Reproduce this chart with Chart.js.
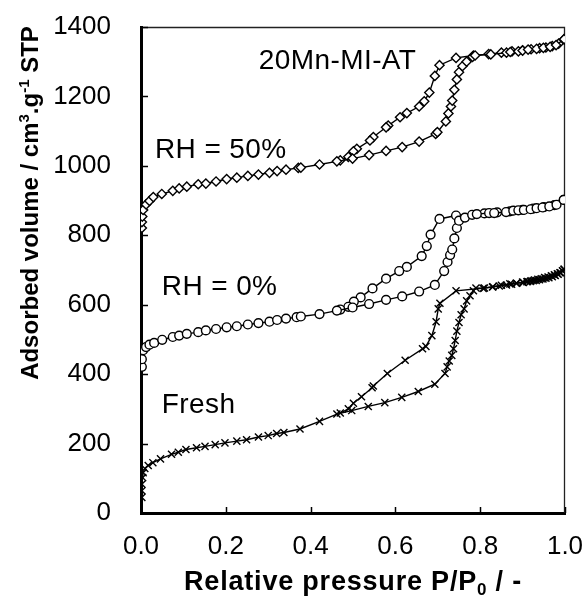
<!DOCTYPE html>
<html>
<head>
<meta charset="utf-8">
<script src="https://cdn.jsdelivr.net/npm/chart.js@4.4.0/dist/chart.umd.min.js"></script>
<style>
  html, body { margin: 0; padding: 0; background: #fff; }
  canvas { display: block; }
</style>
</head>
<body>
<canvas id="chart" width="587" height="599"></canvas>
<script>
// N2 physisorption isotherms: [relative pressure P/P0, adsorbed volume cm3/g STP]

// 20Mn-MI-AT aged at RH = 50 %
const rh50Adsorption = [
  [0.002, 821], [0.002, 838], [0.003, 854], [0.005, 873], [0.012, 889], [0.020, 899],
  [0.029, 910], [0.049, 919], [0.075, 928], [0.090, 935], [0.108, 940], [0.135, 947],
  [0.153, 949], [0.177, 955], [0.202, 962], [0.226, 966], [0.252, 971], [0.277, 975],
  [0.303, 980], [0.321, 985], [0.342, 989], [0.371, 994], [0.377, 995], [0.421, 1004],
  [0.462, 1013], [0.499, 1021], [0.538, 1031], [0.578, 1043], [0.616, 1054], [0.656, 1070],
  [0.695, 1092], [0.699, 1097], [0.719, 1128], [0.725, 1151], [0.731, 1171], [0.734, 1188],
  [0.739, 1219], [0.745, 1249], [0.750, 1270], [0.758, 1287], [0.768, 1300], [0.782, 1314],
  [0.788, 1318], [0.825, 1321], [0.862, 1326], [0.871, 1328], [0.890, 1330], [0.900, 1332],
  [0.913, 1335], [0.933, 1337], [0.949, 1340], [0.965, 1343], [0.979, 1348], [0.998, 1365]
];
const rh50Desorption = [
  [0.998, 1365], [0.985, 1352], [0.970, 1345], [0.955, 1341], [0.940, 1339], [0.920, 1336],
  [0.900, 1333], [0.875, 1330], [0.850, 1326], [0.820, 1322], [0.784, 1318], [0.743, 1311],
  [0.704, 1290], [0.693, 1259], [0.680, 1211], [0.668, 1186], [0.656, 1171], [0.627, 1152],
  [0.611, 1140], [0.583, 1116], [0.578, 1111], [0.548, 1083], [0.540, 1073], [0.509, 1049],
  [0.501, 1042], [0.489, 1026], [0.470, 1016]
];

// 20Mn-MI-AT aged at RH = 0 %
const rh0Adsorption = [
  [0.002, 421], [0.002, 443], [0.005, 469], [0.012, 478], [0.020, 485], [0.031, 490],
  [0.050, 499], [0.075, 507], [0.090, 511], [0.108, 516], [0.135, 521], [0.153, 526],
  [0.177, 530], [0.202, 535], [0.226, 538], [0.252, 543], [0.277, 547], [0.303, 551],
  [0.321, 556], [0.342, 560], [0.367, 564], [0.377, 566], [0.421, 573], [0.462, 583],
  [0.499, 592], [0.538, 602], [0.578, 614], [0.616, 624], [0.656, 638], [0.693, 657],
  [0.715, 697], [0.723, 723], [0.729, 743], [0.734, 759], [0.739, 791], [0.745, 821],
  [0.750, 842], [0.764, 851], [0.781, 859], [0.792, 861], [0.821, 864], [0.833, 864],
  [0.861, 867], [0.878, 871], [0.890, 872], [0.903, 873], [0.919, 875], [0.933, 878],
  [0.947, 880], [0.963, 883], [0.980, 888], [0.997, 902]
];
const rh0Desorption = [
  [0.997, 902], [0.975, 887], [0.950, 881], [0.925, 877], [0.900, 873], [0.870, 869],
  [0.840, 866], [0.810, 863], [0.743, 857], [0.704, 847], [0.683, 802], [0.674, 769],
  [0.662, 740], [0.627, 709], [0.609, 697], [0.578, 675], [0.546, 647], [0.518, 621],
  [0.502, 609], [0.489, 594], [0.470, 586]
];

// Fresh 20Mn-MI-AT
const freshAdsorption = [
  [0.002, 45], [0.002, 64], [0.002, 83], [0.004, 102], [0.005, 116], [0.009, 128],
  [0.017, 137], [0.028, 145], [0.046, 156], [0.072, 169], [0.088, 175], [0.106, 183],
  [0.131, 188], [0.151, 192], [0.175, 197], [0.198, 202], [0.226, 207], [0.249, 211],
  [0.277, 219], [0.300, 223], [0.320, 229], [0.337, 232], [0.375, 242], [0.421, 264],
  [0.462, 285], [0.497, 295], [0.536, 307], [0.575, 318], [0.615, 333], [0.654, 350],
  [0.693, 371], [0.717, 402], [0.722, 421], [0.727, 438], [0.733, 454], [0.737, 473],
  [0.741, 497], [0.745, 524], [0.750, 549], [0.755, 571], [0.762, 588], [0.768, 611],
  [0.776, 626], [0.784, 640], [0.790, 648], [0.807, 647], [0.829, 651], [0.845, 654],
  [0.862, 657], [0.874, 659], [0.886, 662], [0.902, 664], [0.910, 666], [0.918, 667],
  [0.925, 669], [0.932, 670], [0.940, 672], [0.948, 674], [0.955, 676], [0.962, 678],
  [0.970, 681], [0.977, 684], [0.984, 688], [0.990, 692], [0.995, 697], [0.998, 702]
];
const freshDesorption = [
  [0.998, 702], [0.994, 698], [0.988, 692], [0.982, 689], [0.975, 686], [0.968, 683],
  [0.960, 680], [0.952, 678], [0.944, 675], [0.936, 673], [0.928, 671], [0.920, 669],
  [0.912, 667], [0.900, 665], [0.885, 662], [0.870, 660], [0.850, 656], [0.830, 652],
  [0.810, 648], [0.743, 640], [0.705, 604], [0.701, 588], [0.696, 551], [0.686, 511],
  [0.672, 480], [0.664, 473], [0.623, 440], [0.581, 402], [0.548, 366], [0.545, 361],
  [0.520, 335], [0.501, 316], [0.489, 300], [0.470, 288]
];

// Axis ranges and ticks
const xMin = 0, xMax = 1.0, xStep = 0.2;
const yMin = 0, yMax = 1400, yStep = 200;

// Curve labels, placed in data coordinates (left edge, baseline)
const curveLabels = [
  { text: '20Mn-MI-AT', p: 0.278, v: 1280 },
  { text: 'RH = 50%',   p: 0.033, v: 1022 },
  { text: 'RH = 0%',    p: 0.049, v: 627 },
  { text: 'Fresh',      p: 0.049, v: 289 }
];

const FONT = '"Liberation Sans", Arial, sans-serif';
const INK = '#000';

const toPoints = arr => arr.map(([x, y]) => ({ x, y }));

function series(data, style, radius) {
  return {
    data: toPoints(data),
    showLine: true,
    borderColor: INK,
    borderWidth: 1.4,
    tension: 0,
    pointStyle: style,
    pointRadius: radius,
    pointBorderWidth: 1.4,
    pointBorderColor: INK,
    pointBackgroundColor: '#fff'
  };
}

// Draws text made of runs with optional super/subscripts, centred on x
function drawRuns(ctx, runs, x, y, size, weight, spacing) {
  const small = Math.round(size * 0.62);
  const fontOf = r => `${weight} ${r.sup || r.sub ? small : size}px ${FONT}`;
  ctx.letterSpacing = spacing || '0px';
  let total = 0;
  runs.forEach(r => { ctx.font = fontOf(r); total += ctx.measureText(r.t).width; });
  let cx = x - total / 2;
  ctx.textAlign = 'left';
  ctx.textBaseline = 'alphabetic';
  runs.forEach(r => {
    ctx.font = fontOf(r);
    let dy = 0;
    if (r.sup) dy = -size * 0.38;
    if (r.sub) dy = size * 0.2;
    ctx.fillText(r.t, cx, y + dy);
    cx += ctx.measureText(r.t).width;
  });
  ctx.letterSpacing = '0px';
}

const decorations = {
  id: 'decorations',
  beforeDatasetsDraw(chart) {
    const { ctx, chartArea: a, scales } = chart;
    ctx.save();
    // thin top and right frame
    ctx.strokeStyle = '#222';
    ctx.lineWidth = 1.3;
    ctx.beginPath();
    ctx.moveTo(a.left, a.top + 0.5);
    ctx.lineTo(a.right - 0.5, a.top + 0.5);
    ctx.lineTo(a.right - 0.5, a.bottom);
    ctx.stroke();
    // inward tick marks
    ctx.strokeStyle = INK;
    ctx.lineWidth = 1.5;
    scales.y.ticks.forEach(t => {
      const py = Math.round(scales.y.getPixelForValue(t.value)) + 0.5;
      ctx.beginPath();
      ctx.moveTo(a.left, py);
      ctx.lineTo(a.left + 7, py);
      ctx.stroke();
    });
    scales.x.ticks.forEach(t => {
      const px = Math.round(scales.x.getPixelForValue(t.value)) + 0.5;
      ctx.beginPath();
      ctx.moveTo(px, a.bottom);
      ctx.lineTo(px, a.bottom - 6);
      ctx.stroke();
    });
    ctx.restore();
  },
  afterDraw(chart) {
    const { ctx, chartArea: a, scales } = chart;
    ctx.save();
    ctx.fillStyle = INK;
    // curve labels
    ctx.font = `28px ${FONT}`;
    ctx.letterSpacing = '0.4px';
    ctx.textAlign = 'left';
    ctx.textBaseline = 'alphabetic';
    curveLabels.forEach(l => {
      ctx.fillText(l.text, scales.x.getPixelForValue(l.p), scales.y.getPixelForValue(l.v));
    });
    ctx.letterSpacing = '0px';
    // x axis title
    drawRuns(ctx, [
      { t: 'Relative pressure P/P' }, { t: '0', sub: true }, { t: ' / -' }
    ], (a.left + a.right) / 2, 590, 27, 'bold', '0.8px');
    // y axis title
    ctx.translate(38, 203);
    ctx.rotate(-Math.PI / 2);
    drawRuns(ctx, [
      { t: 'Adsorbed volume / cm' }, { t: '3', sup: true }, { t: '.g' },
      { t: '-1', sup: true }, { t: ' STP' }
    ], 0, 0, 24, 'bold');
    ctx.restore();
  }
};

new Chart(document.getElementById('chart'), {
  type: 'scatter',
  data: {
    datasets: [
      series(rh50Adsorption, 'rectRot', 4.6),
      series(rh50Desorption, 'rectRot', 4.6),
      series(rh0Adsorption, 'circle', 4.4),
      series(rh0Desorption, 'circle', 4.4),
      series(freshAdsorption, 'crossRot', 5),
      series(freshDesorption, 'crossRot', 5)
    ]
  },
  options: {
    responsive: false,
    animation: false,
    devicePixelRatio: 1,
    layout: { padding: { top: 27, right: 22, left: 0, bottom: 0 } },
    plugins: { legend: { display: false }, tooltip: { enabled: false } },
    scales: {
      x: {
        type: 'linear',
        min: xMin, max: xMax,
        afterFit: s => { s.height = 86; s.paddingLeft = 0; s.paddingRight = 0; },
        grid: { display: false, drawTicks: false },
        border: { display: true, color: INK, width: 3 },
        ticks: {
          stepSize: xStep,
          padding: 18,
          color: INK,
          font: { family: FONT, size: 26 },
          callback: v => Number(v).toFixed(1)
        }
      },
      y: {
        type: 'linear',
        min: yMin, max: yMax,
        afterFit: s => { s.width = 141; s.paddingTop = 0; s.paddingBottom = 0; },
        grid: { display: false, drawTicks: false },
        border: { display: true, color: INK, width: 3 },
        ticks: {
          stepSize: yStep,
          padding: 30,
          color: INK,
          font: { family: FONT, size: 26 },
          callback: v => String(v)
        }
      }
    }
  },
  plugins: [decorations]
});
</script>
</body>
</html>
